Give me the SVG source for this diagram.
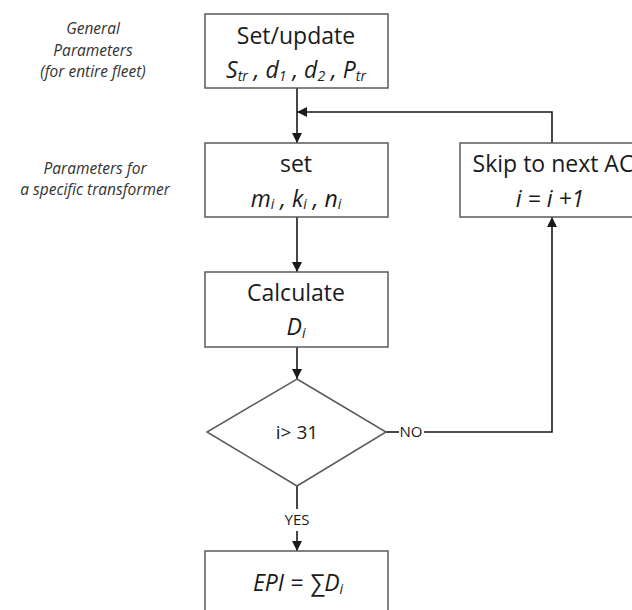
<svg xmlns="http://www.w3.org/2000/svg" width="632" height="610" viewBox="0 0 632 610">
<style>
.box{fill:#fff;stroke:#5a5a5a;stroke-width:1.5}
.t{font-family:"Open Sans","Noto Sans","Liberation Sans",sans-serif;fill:#1a1a1a;text-anchor:middle}
.big{font-size:23px}
.it{font-style:italic}
.note{font-size:15.5px;font-style:italic;fill:#333}
.lab{font-size:15px}
.con{fill:none;stroke:#1a1a1a;stroke-width:1.6}
.sub{font-size:14px}
</style>
<defs>
<marker id="ah" viewBox="0 0 10 10" refX="10" refY="5" markerWidth="10" markerHeight="10" markerUnits="userSpaceOnUse" orient="auto">
<path d="M0,0 L10,5 L0,10 z" fill="#1a1a1a"/>
</marker>
</defs>
<rect width="632" height="610" fill="#fff"/>
<g id="notes">
<text class="t note" x="93" y="34">General</text>
<text class="t note" x="93" y="56">Parameters</text>
<text class="t note" x="93" y="77">(for entire fleet)</text>
<text class="t note" x="95" y="174">Parameters for</text>
<text class="t note" x="95" y="195">a specific transformer</text>
</g>
<g id="connectors">
<path class="con" d="M297,88 V143" marker-end="url(#ah)"/>
<path class="con" d="M552,143 V112 H297" marker-end="url(#ah)"/>
<path class="con" d="M297,217 V272" marker-end="url(#ah)"/>
<path class="con" d="M297,347 V379" marker-end="url(#ah)"/>
<path class="con" d="M386,432 H399"/>
<path class="con" d="M424,432 H552 V217" marker-end="url(#ah)"/>
<path class="con" d="M297,486 V509"/>
<path class="con" d="M297,531 V551" marker-end="url(#ah)"/>
<text class="t lab" x="411" y="437">NO</text>
<text class="t lab" x="297" y="525">YES</text>
</g>
<g id="n1">
<rect class="box" x="205" y="14" width="183" height="74"/>
<text class="t big" x="296" y="44">Set/update</text>
<text class="t big it" x="296" y="78">S<tspan class="sub" dy="3">tr</tspan><tspan dy="-3"> , d</tspan><tspan class="sub" dy="3">1</tspan><tspan dy="-3"> , d</tspan><tspan class="sub" dy="3">2</tspan><tspan dy="-3"> , P</tspan><tspan class="sub" dy="3">tr</tspan></text>
</g>
<g id="n2">
<rect class="box" x="205" y="143" width="183" height="74"/>
<text class="t big" x="296" y="172">set</text>
<text class="t big it" x="296" y="207">m<tspan class="sub" dy="2">i</tspan><tspan dy="-2"> , k</tspan><tspan class="sub" dy="2">i</tspan><tspan dy="-2"> , n</tspan><tspan class="sub" dy="2">i</tspan></text>
</g>
<g id="n3">
<rect class="box" x="460" y="143" width="184" height="74"/>
<text class="t big" x="553" y="172">Skip to next AC</text>
<text class="t big it" x="550" y="207">i = i +1</text>
</g>
<g id="n4">
<rect class="box" x="205" y="272" width="183" height="75"/>
<text class="t big" x="296" y="301">Calculate</text>
<text class="t big it" x="296" y="335">D<tspan class="sub" dy="3">i</tspan></text>
</g>
<g id="n5">
<polygon class="box" points="297,379 386,432 297,486 207,432"/>
<text class="t" style="font-size:19px" x="297" y="439">i&gt; 31</text>
</g>
<g id="n6">
<rect class="box" x="205" y="551" width="183" height="70"/>
<text class="t big it" x="298" y="591">EPI = ∑D<tspan class="sub" dy="3">i</tspan></text>
</g>
</svg>
